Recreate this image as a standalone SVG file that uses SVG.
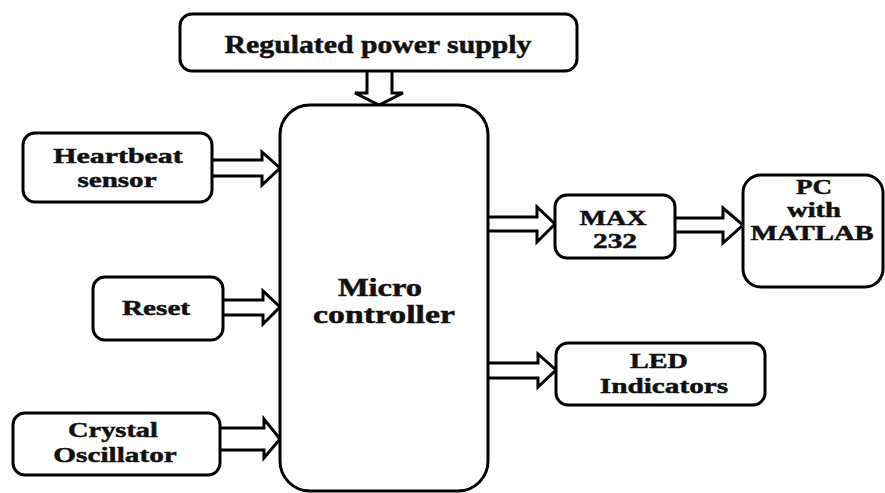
<svg xmlns="http://www.w3.org/2000/svg" width="885" height="493" viewBox="0 0 885 493">
<style>
.box{fill:#fff;stroke:#000;stroke-width:3}
.arr{fill:#fff;stroke:#000;stroke-width:3;stroke-linejoin:miter}
text{font-family:"Liberation Serif","Times New Roman",serif;font-weight:bold;font-size:22px;fill:#111;stroke:#111;stroke-width:0.5;text-anchor:middle}
text.big{font-size:25px}
text.sm{font-size:21px}
</style>
<rect width="885" height="493" fill="#fff"/>
<g id="connectors">
<polyline class="arr" points="367,71 367,93 355,93 379,105 403,93 392,93 392,71"/>
<polyline class="arr" points="212,160 262,160 262,152 280,168 262,185 262,176 212,176"/>
<polyline class="arr" points="223,300 263,300 263,291 280,307 263,324 263,315 223,315"/>
<polyline class="arr" points="220,428 264,428 264,419 280,439 264,458 264,450 220,450"/>
<polyline class="arr" points="488,217 537,217 537,207 555,224 537,242 537,231 488,231"/>
<polyline class="arr" points="675,218 723,218 723,208 743,225 723,243 723,232 675,232"/>
<polyline class="arr" points="488,363 538,363 538,354 556,370 538,387 538,378 488,378"/>
</g>
<g id="power">
<rect class="box" x="180" y="14" width="397" height="57" rx="12"/>
<text class="big" transform="translate(378,53) scale(1.19,1)">Regulated power supply</text>
</g>
<g id="micro">
<rect class="box" x="280" y="105" width="208" height="386" rx="30"/>
<text class="big" transform="translate(380,296) scale(1.3,1)">Micro</text>
<text class="big" transform="translate(384,323) scale(1.35,1)">controller</text>
</g>
<g id="heartbeat">
<rect class="box" x="23" y="133" width="189" height="69" rx="12"/>
<text transform="translate(118,163) scale(1.36,1)">Heartbeat</text>
<text transform="translate(117,187) scale(1.32,1)">sensor</text>
</g>
<g id="reset">
<rect class="box" x="93" y="277" width="130" height="63" rx="12"/>
<text transform="translate(156,315) scale(1.33,1)">Reset</text>
</g>
<g id="crystal">
<rect class="box" x="13" y="413" width="207" height="62" rx="12"/>
<text transform="translate(113,437) scale(1.29,1)">Crystal</text>
<text transform="translate(115,462) scale(1.33,1)">Oscillator</text>
</g>
<g id="max232">
<rect class="box" x="555" y="195" width="120" height="63" rx="12"/>
<text class="sm" transform="translate(613,225) scale(1.34,1)">MAX</text>
<text class="sm" transform="translate(615,248) scale(1.4,1)">232</text>
</g>
<g id="pc">
<rect class="box" x="743" y="175" width="140" height="112" rx="18"/>
<text class="sm" transform="translate(814,194) scale(1.29,1)">PC</text>
<text class="sm" transform="translate(814,217) scale(1.36,1)">with</text>
<text class="sm" transform="translate(812,240) scale(1.36,1)">MATLAB</text>
</g>
<g id="led">
<rect class="box" x="556" y="343" width="209" height="62" rx="12"/>
<text transform="translate(659,368) scale(1.28,1)">LED</text>
<text transform="translate(664,393) scale(1.33,1)">Indicators</text>
</g>
</svg>
